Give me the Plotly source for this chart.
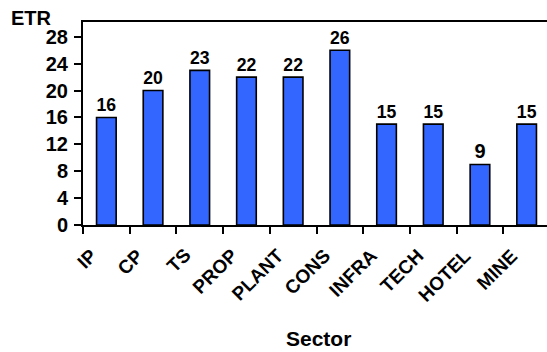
import plotly.graph_objects as go

# Effective tax rate by sector
sectors = ["IP", "CP", "TS", "PROP", "PLANT", "CONS", "INFRA", "TECH", "HOTEL", "MINE"]
etr = [16, 20, 23, 22, 22, 26, 15, 15, 9, 15]
y_ticks = [0, 4, 8, 12, 16, 20, 24, 28]

FONT = "Arial, 'Liberation Sans', sans-serif"
W, H = 547, 352
ML, MR, MT, MB = 83, 0, 22, 127
cat_px = 46.7  # pixel width of one category slot
plot_w = W - ML - MR
plot_h = H - MT - MB


def px_x(p):
    return (p - ML) / plot_w


def px_y(p):
    return (H - MB - p) / plot_h


fig = go.Figure(
    go.Bar(
        x=list(range(len(sectors))),
        y=etr,
        width=0.42,
        marker=dict(color="#3366FF", line=dict(color="black", width=1.6)),
        text=[str(v) for v in etr],
        textposition="outside",
        textfont=dict(family=FONT, size=20, color="black", weight="bold"),
        cliponaxis=False,
    )
)

# slanted category labels, ending just left of each category centre
annotations = [
    dict(
        text=name, xref="x", yref="paper",
        x=i - 0.05, y=px_y(242),
        xanchor="right", yanchor="top", textangle=-45,
        showarrow=False,
        font=dict(family=FONT, size=19, color="black", weight="bold"),
    )
    for i, name in enumerate(sectors)
]
annotations += [
    dict(
        text="ETR", xref="paper", yref="paper",
        x=px_x(9), y=px_y(18),
        xanchor="left", yanchor="middle", showarrow=False,
        font=dict(family=FONT, size=20, color="black", weight="bold"),
    ),
    dict(
        text="Sector", xref="paper", yref="paper",
        x=px_x(318), y=px_y(338),
        xanchor="center", yanchor="middle", showarrow=False,
        font=dict(family=FONT, size=21, color="black", weight="bold"),
    ),
]

fig.update_layout(
    width=W,
    height=H,
    margin=dict(l=ML, r=MR, t=MT, b=MB),
    paper_bgcolor="white",
    plot_bgcolor="white",
    showlegend=False,
    font=dict(family=FONT, color="black"),
    xaxis=dict(
        range=[-0.5, -0.5 + plot_w / cat_px],
        tickvals=[i - 0.5 for i in range(len(sectors) + 1)],
        showticklabels=False,
        showline=True,
        linecolor="black",
        linewidth=2,
        mirror=True,
        ticks="outside",
        ticklen=7,
        tickwidth=1.6,
        tickcolor="black",
        showgrid=False,
        zeroline=False,
    ),
    yaxis=dict(
        range=[0, 30.2],
        tickvals=y_ticks,
        showline=True,
        linecolor="black",
        linewidth=2,
        ticks="outside",
        ticklen=7,
        tickwidth=1.6,
        tickcolor="black",
        ticklabelstandoff=2,
        tickfont=dict(family=FONT, size=20, color="black", weight="bold"),
        showgrid=False,
        zeroline=False,
    ),
    annotations=annotations,
)

fig.write_html("out.html")
